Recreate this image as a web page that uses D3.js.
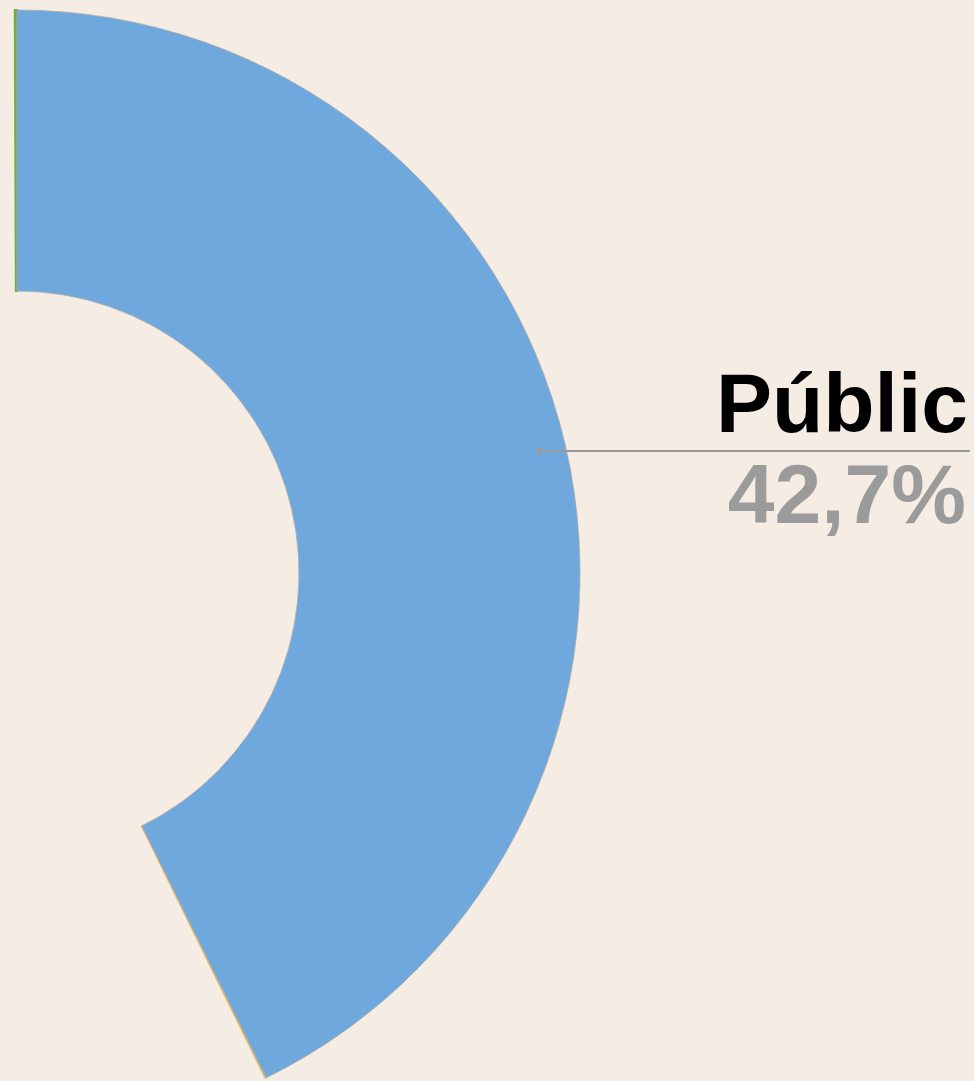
<!DOCTYPE html>
<html>
<head>
<meta charset="utf-8">
<script src="https://cdn.jsdelivr.net/npm/d3@7"></script>
<style>
    html, body { margin: 0; padding: 0; background: #f5ece3; }
    svg { display: block; }
</style>
</head>
<body>
<svg width="974" height="1081"></svg>
<script>
// slice shown in the picture, plus the slivers of its neighbours on each side
const categories = ["Públic"];
const shares = [42.7];
const labels = ["42,7%"];
const neighbourColors = ["#70ad47", "#e3b95a"];

const svg = d3.select("svg"),
    width = +svg.attr("width"),
    height = +svg.attr("height");

const cx = 17, cy = 573,
    outerR = 563, innerR = 282;

const angle = d3.scaleLinear()
    .domain([0, 100])
    .range([0, 2 * Math.PI]);

const arc = d3.arc()
    .innerRadius(innerR)
    .outerRadius(outerR);

const g = svg.append("g")
    .attr("transform", "translate(" + cx + "," + cy + ")");

const end = angle(shares[0]);

// neighbour slivers
g.append("path")
    .attr("d", arc({startAngle: -angle(0.06), endAngle: 0}))
    .attr("fill", neighbourColors[0])
    .attr("stroke", neighbourColors[0])
    .attr("stroke-width", 2.2);
g.append("path")
    .attr("d", arc({startAngle: end, endAngle: end + angle(0.04)}))
    .attr("fill", neighbourColors[1])
    .attr("stroke", neighbourColors[1])
    .attr("stroke-width", 0.8);

g.append("path")
    .attr("d", arc({startAngle: 0, endAngle: end}))
    .attr("fill", "#6fa8dc")
    .attr("stroke", "#a9a9a9")
    .attr("stroke-width", 0.8);

// leader line
const lineY = 451;
const mid = end / 2;
const lr = (lineY - cy) / -Math.cos(mid);
const x0 = cx + lr * Math.sin(mid);

svg.append("line")
    .attr("x1", x0)
    .attr("y1", lineY)
    .attr("x2", 970)
    .attr("y2", lineY)
    .attr("stroke", "#9a9a9a")
    .attr("stroke-width", 2);

svg.append("circle")
    .attr("cx", x0)
    .attr("cy", lineY)
    .attr("r", 3)
    .attr("fill", "#9a9a9a");

svg.append("text")
    .attr("x", 968)
    .attr("y", 432)
    .attr("text-anchor", "end")
    .attr("font-family", "Liberation Sans, Arial, sans-serif")
    .attr("font-weight", "bold")
    .attr("font-size", 84)
    .attr("fill", "#000")
    .text(categories[0]);

svg.append("text")
    .attr("x", 966)
    .attr("y", 523)
    .attr("text-anchor", "end")
    .attr("font-family", "Liberation Sans, Arial, sans-serif")
    .attr("font-weight", "bold")
    .attr("font-size", 84)
    .attr("fill", "#9b9b9b")
    .text(labels[0]);
</script>
</body>
</html>
